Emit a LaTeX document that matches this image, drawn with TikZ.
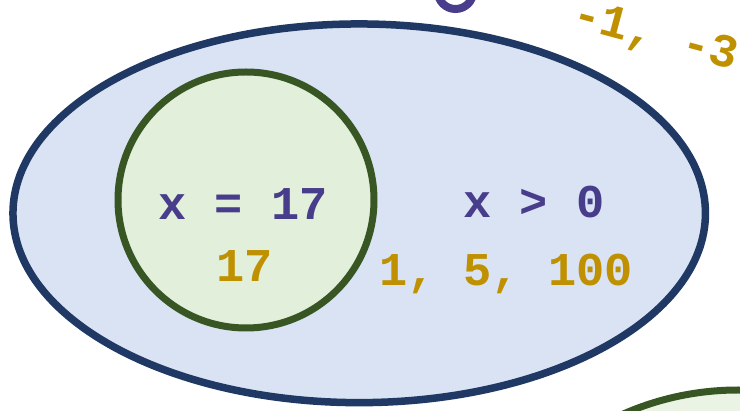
\documentclass[tikz,border=0pt]{standalone}
\usepackage{fontspec}
\setmonofont{Liberation Mono}
\usetikzlibrary{shapes.geometric}
\definecolor{navyline}{HTML}{1F3864}
\definecolor{bluefill}{HTML}{DAE3F3}
\definecolor{greenline}{HTML}{375623}
\definecolor{greenfill}{HTML}{E2EFDA}
\definecolor{greenfilltwo}{HTML}{EBF3E4}
\definecolor{purpletext}{HTML}{483D8B}
\definecolor{goldtext}{HTML}{BF9000}
\tikzset{
  setshape/.style={ellipse, inner sep=0pt, outer sep=0pt},
  outerset/.style={setshape, draw=navyline, fill=bluefill, line width=7.5pt},
  innerset/.style={circle, inner sep=0pt, outer sep=0pt, draw=greenline, line width=7pt},
  lbl/.style={font=\ttfamily\bfseries\fontsize{47}{50}\selectfont, inner sep=0pt, anchor=base},
  condtext/.style={lbl, text=purpletext},
  valtext/.style={lbl, text=goldtext},
}
\begin{document}
\begin{tikzpicture}[x=1pt,y=-1pt]
\useasboundingbox (0,0) rectangle (740,411);
\clip (0,0) rectangle (740,411);
% partial letter at top
\draw[purpletext, line width=8pt] (438,-8) arc[start angle=180, end angle=0, x radius=17.5, y radius=17];
% outer set
\node[outerset, minimum width=692.5pt, minimum height=378.7pt] (outer) at (359.2,213.3) {};
% inner set
\node[innerset, fill=greenfill, minimum size=256pt] (inner) at (246,200) {};
% partial set bottom right
\node[innerset, fill=greenfilltwo, minimum size=570pt] (other) at (738,675) {};
% texts
\node[condtext] (eq) at (243,220) {x = 17};
\node[valtext] (seventeen) at (245,282) {17};
\node[condtext] (gt) at (534,218) {x > 0};
\node[valtext] (pos) at (506,286) {1, 5, 100};
\node[valtext, anchor=base west, rotate=-15] (neg) at (570,26) {-1, -3};
\end{tikzpicture}
\end{document}
